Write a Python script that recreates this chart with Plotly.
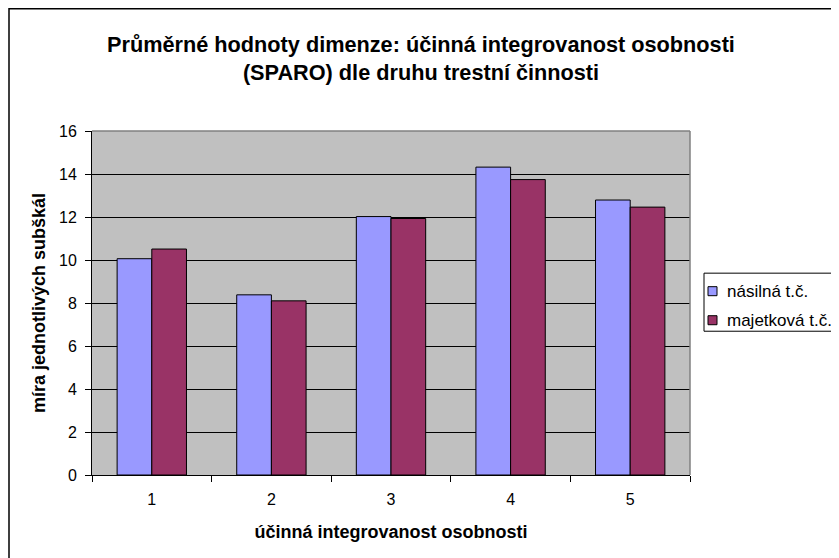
import plotly.graph_objects as go

categories = ["1", "2", "3", "4", "5"]
nasilna = [10.06, 8.38, 12.02, 14.32, 12.79]
majetkova = [10.51, 8.10, 11.93, 13.74, 12.46]
series_names = ["násilná t.č.", "majetková t.č."]
series_colors = ["#9999FF", "#993366"]

FONT = "Liberation Sans, Arial, sans-serif"

fig = go.Figure()
for vals, name, col in zip([nasilna, majetkova], series_names, series_colors):
    fig.add_trace(go.Bar(x=categories, y=vals, name=name, showlegend=False,
                         marker=dict(color=col, line=dict(color="#000000", width=1))))

OFF = 8  # page body margin
W, H = 839 - OFF, 558 - OFF
L, T = 92 - OFF, 131 - OFF
pw, ph = 598, 343.6
R, B = W - L - pw, H - T - ph

def px_x(x):  # screen x -> paper x
    return (x - OFF - L) / pw

def px_y(y):  # screen y -> paper y
    return (T + ph - (y - OFF)) / ph

fig.update_layout(
    width=W, height=H,
    margin=dict(l=L, r=R, t=T, b=B),
    paper_bgcolor="white",
    plot_bgcolor="#C0C0C0",
    font=dict(family=FONT, size=16, color="black"),
    barmode="group",
    bargap=0.42,
    bargroupgap=0.0,
    title=dict(text="<b>Průměrné hodnoty dimenze: účinná integrovanost osobnosti<br>(SPARO) dle druhu trestní činnosti</b>",
               x=(421 - OFF) / W, xref="container", xanchor="center",
               y=1 - (52 - OFF) / H, yref="container", yanchor="middle",
               font=dict(family=FONT, size=21.7, color="black")),
    xaxis=dict(showline=True, linecolor="black", linewidth=1, ticks="outside",
               tickson="boundaries", ticklen=6, tickcolor="black",
               tickfont=dict(family=FONT, size=16), ticklabelstandoff=10,
               title=dict(text="<b>účinná integrovanost osobnosti</b>", standoff=18,
                          font=dict(family=FONT, size=18)),
               showgrid=False),
    yaxis=dict(range=[0, 16], dtick=2, showline=True, linecolor="black", linewidth=1,
               ticks="outside", ticklen=6, tickcolor="black",
               tickfont=dict(family=FONT, size=16), ticklabelstandoff=5,
               showgrid=True, gridcolor="black", gridwidth=1, zeroline=False,
               title=dict(text="<b>míra jednotlivých subškál</b>", standoff=8,
                          font=dict(family=FONT, size=18))),
)

# gray frame on top/right of plot area
fig.add_shape(type="line", xref="paper", yref="paper", x0=0, x1=1, y0=1, y1=1,
              line=dict(color="#808080", width=1.5))
fig.add_shape(type="line", xref="paper", yref="paper", x0=1, x1=1, y0=0, y1=1,
              line=dict(color="#808080", width=1.5))
# outer chart border (extends past the visible area on right/bottom)
fig.add_shape(type="rect", xref="paper", yref="paper",
              x0=px_x(9), x1=px_x(860),
              y0=px_y(580), y1=px_y(9),
              line=dict(color="black", width=1.5), layer="below")

# legend box (extends past the right edge, as in the reference)
fig.add_shape(type="rect", xref="paper", yref="paper",
              x0=px_x(704), x1=px_x(860), y0=px_y(331), y1=px_y(273),
              line=dict(color="black", width=1), fillcolor="white")
item_y = [291, 320]
for name, col, yy in zip(series_names, series_colors, item_y):
    fig.add_shape(type="rect", xref="paper", yref="paper",
                  x0=px_x(708), x1=px_x(717), y0=px_y(yy + 4.5), y1=px_y(yy - 4.5),
                  line=dict(color="black", width=1), fillcolor=col)
    fig.add_annotation(text=name, xref="paper", yref="paper",
                       x=px_x(725), y=px_y(yy), xanchor="left", yanchor="middle",
                       showarrow=False, font=dict(family=FONT, size=17, color="black"))

fig.write_html("out.html")
